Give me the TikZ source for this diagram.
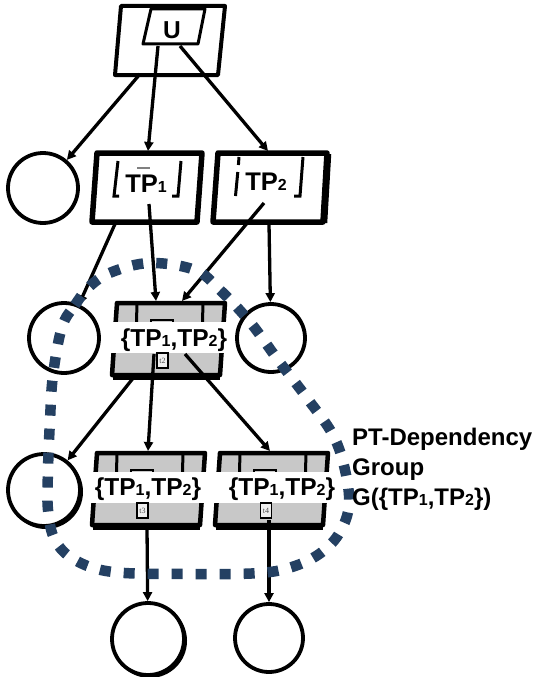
\documentclass[tikz,border=0pt]{standalone}
\usepackage{fontspec}
\setmainfont{Liberation Sans}
\newfontfamily\tserif{Liberation Serif}
\usetikzlibrary{arrows.meta,calc}
\definecolor{grpblue}{HTML}{244062}
\definecolor{boxgray}{HTML}{C8C8C8}
\newcommand\sbs[1]{{\fontsize{16}{16}\selectfont #1}}
\newcommand\grayproc[2]{%
\begin{scope}[shift={(#1,#2)}]
 \draw[line width=3.5pt] (-4.5,75)--(102.5,75);
 \filldraw[fill=boxgray,line width=4.5pt,line join=round] (0,0)--(108,0)--(103,72)--(-5,72)--cycle;
 \draw[line width=3pt] (20,0)--(19.5,19) (86,0)--(85.5,19);
 \draw[line width=1.2pt] (34,17) rectangle (56,32);
 \fill[white] (-6,19) rectangle (116,50);
\end{scope}}
\begin{document}
\begin{tikzpicture}[x=1pt,y=-1pt,
 conn/.style={line width=3.3pt,-{Triangle[length=9pt,width=9pt]}},
 place/.style={circle,draw,line width=3.8pt,fill=white,minimum size=#1,inner sep=0pt,outer sep=1.9pt},
 lbl/.style={font=\fontsize{24.5}{24.5}\selectfont\bfseries,inner sep=0pt,anchor=base},
 tbox/.style={draw,line width=1.5pt,fill=gray!12,minimum width=11pt,minimum height=15pt,inner sep=0pt,font=\tserif\fontsize{8}{8}\selectfont,text=gray!60!black},
 bracket/.style={line width=3pt},
]
\useasboundingbox (0,0) rectangle (533,677);
\fill[white] (0,0) rectangle (533,677);

% ---- U box
\filldraw[fill=white,line width=4pt,line join=round] (121,6)--(225,6)--(218,75)--(115,75)--cycle;
\filldraw[fill=white,line width=3pt,line join=round] (151,9)--(205,9)--(198,44)--(143,44)--cycle;
\node[lbl] (u) at (172,38) {U};

% ---- TP1 box
\filldraw[fill=white,line width=5.5pt,line join=round] (97,153)--(202,153)--(197,222)--(92,222)--cycle;
\draw[bracket] (118,161)--(114,196)--(119,196);
\draw[bracket] (181,161)--(178,196)--(172,196);
\draw[gray,line width=1.4pt] (137,168)--(150,168);
\node[lbl,font=\fontsize{25.5}{25.5}\selectfont\bfseries] (tp1) at (146,192) {TP\sbs{1}};

% ---- TP2 box
\draw[line width=3.5pt] (329.5,154)--(325.5,223);
\filldraw[fill=white,line width=5.5pt,line join=round] (218,153)--(327,153)--(323,222)--(213,222)--cycle;
\draw[bracket] (239,157)--(238.4,165) (237.8,172)--(235.5,196);
\draw[bracket] (303,157)--(300,196)--(294,196);
\node[lbl,font=\fontsize{25.5}{25.5}\selectfont\bfseries] (tp2) at (266,190) {TP\sbs{2}};

% ---- gray process boxes
\grayproc{117}{303}
\grayproc{97}{453}
\grayproc{220}{453}
\node[lbl] (g2) at (174,346) {\{TP\sbs{1},TP\sbs{2}\}};
\node[lbl] (g3) at (148,495) {\{TP\sbs{1},TP\sbs{2}\}};
\node[lbl] (g4) at (282,495) {\{TP\sbs{1},TP\sbs{2}\}};
\node[tbox] (t2) at (162.5,360.5) {t2};
\node[tbox] (t3) at (142.5,510.5) {t3};
\node[tbox] (t4) at (266,510.5) {t4};

% ---- places
\draw[line width=2.4pt] (45.8,491.8) circle (36);
\draw[line width=2.4pt] (149.8,640.8) circle (36);
\node[place=70pt] (c1) at (43,188) {};
\node[place=70pt] (c2) at (64,338) {};
\node[place=68pt] (c3) at (271,338) {};
\node[place=72pt] (c4) at (44,490) {};
\node[place=72pt] (c5) at (148,639) {};
\node[place=68pt] (c6) at (269,638) {};

% ---- connector end points
\coordinate (uA) at (140,74);
\coordinate (uB) at (158,46);
\coordinate (uC) at (180,46);
\coordinate (tp1in) at (148,151);
\coordinate (tp2in) at (268,151);
\coordinate (tp1o1) at (115,224);
\coordinate (tp1o2) at (149,204);
\coordinate (tp2o1) at (264,203);
\coordinate (tp2o2) at (269,224);
\coordinate (t2in1) at (156,301);
\coordinate (t2in2) at (182,301);
\coordinate (t2o1) at (134,377);
\coordinate (t2o2) at (154,354);
\coordinate (t2o3) at (185,354);
\coordinate (t3in) at (148,451);
\coordinate (t4in) at (270,451);
\coordinate (t3o) at (147,527);
\coordinate (t4o) at (269,520);

% ---- connectors
\draw[conn] (uA) -- (c1);
\draw[conn] (uB) -- (tp1in);
\draw[conn] (uC) -- (tp2in);
\draw[conn] (tp1o1) -- (c2);
\draw[conn] (tp1o2) -- (t2in1);
\draw[conn] (tp2o1) -- (t2in2);
\draw[conn] (tp2o2) -- (c3);
\draw[conn] (t2o1) -- (c4);
\draw[conn] (t2o2) -- (t3in);
\draw[conn] (t2o3) -- (t4in);
\draw[conn] (t3o) -- (c5);
\draw[conn] (t4o) -- (c6);

% ---- dependency group
\draw[grpblue,line width=10.5pt,dash pattern=on 11pt off 13pt]
 plot[smooth cycle,tension=0.6] coordinates {
 (62,327) (75,305) (90,286) (112,272) (150,263) (195,270) (220,290) (250,322)
 (278,360) (307,398) (333,435) (345,470) (349,505) (340,532) (322,552) (295,566)
 (260,573) (190,574) (113,572) (75,560) (55,540) (48,510) (48,470) (50,420) (53,375)};

\node[font=\fontsize{24}{30}\selectfont\bfseries,inner sep=0pt,anchor=north west,align=left] (grp) at (352,428)
 {PT-Dependency\\Group\\G(\{TP\sbs{1},TP\sbs{2}\})};
\end{tikzpicture}
\end{document}
